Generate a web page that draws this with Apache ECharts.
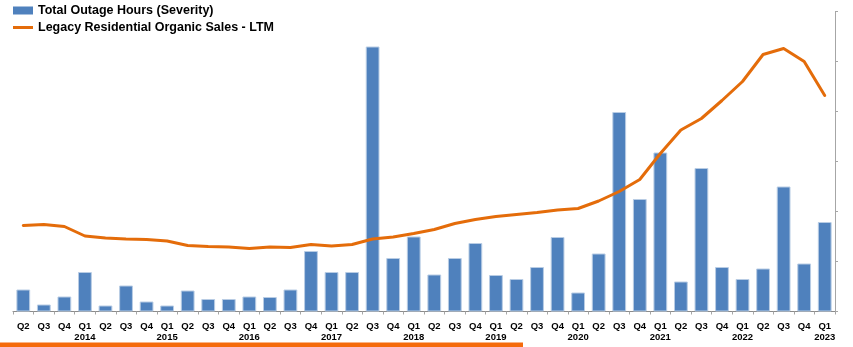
<!DOCTYPE html>
<html>
<head>
<meta charset="utf-8">
<script src="https://cdn.jsdelivr.net/npm/echarts@6/dist/echarts.min.js"></script>
<style>
  html, body { margin: 0; padding: 0; background: #ffffff; }
  #chart { width: 853px; height: 347px; }
</style>
</head>
<body>
<div id="chart"></div>
<script>
// Quarter labels along the category axis (Q2 2014 through Q1 2023)
const quarters = [
  'Q2','Q3','Q4','Q1','Q2','Q3','Q4','Q1','Q2','Q3',
  'Q4','Q1','Q2','Q3','Q4','Q1','Q2','Q3','Q4','Q1',
  'Q2','Q3','Q4','Q1','Q2','Q3','Q4','Q1','Q2','Q3',
  'Q4','Q1','Q2','Q3','Q4','Q1','Q2','Q3','Q4','Q1'
];
// Year shown beneath each Q1 label
const years = [
  '','','','2014','','','','2015','','',
  '','2016','','','','2017','','','','2018',
  '','','','2019','','','','2020','','',
  '','2021','','','','2022','','','','2023'
];

const outageName = 'Total Outage Hours (Severity)';
const salesName = 'Legacy Residential Organic Sales - LTM';

// Total outage hours (severity) per quarter
const outageHours = [
  0.44, 0.14, 0.30, 0.79, 0.12, 0.52, 0.20, 0.12, 0.42, 0.25,
  0.25, 0.30, 0.29, 0.44, 1.21, 0.79, 0.79, 5.30, 1.07, 1.50,
  0.74, 1.07, 1.37, 0.73, 0.65, 0.89, 1.49, 0.38, 1.16, 3.99,
  2.25, 3.18, 0.60, 2.87, 0.89, 0.65, 0.86, 2.50, 0.96, 1.79
];

// Legacy residential organic sales, trailing twelve months
const salesLTM = [
  1.72, 1.74, 1.70, 1.51, 1.47, 1.45, 1.44, 1.41, 1.32, 1.30,
  1.29, 1.26, 1.29, 1.28, 1.34, 1.31, 1.34, 1.45, 1.49, 1.56,
  1.64, 1.76, 1.84, 1.90, 1.94, 1.98, 2.03, 2.06, 2.21, 2.40,
  2.64, 3.16, 3.63, 3.86, 4.22, 4.60, 5.14, 5.26, 5.00, 4.32
];

const chart = echarts.init(document.getElementById('chart'), null, { renderer: 'canvas' });

const legendText = {
  fontFamily: 'Liberation Sans',
  fontWeight: 'bold',
  fontSize: 12.5,
  color: '#000000'
};

chart.setOption({
  animation: false,
  backgroundColor: '#ffffff',
  grid: { left: 13, right: 18, top: 11.5, bottom: 35.5, containLabel: false },
  legend: [
    {
      data: [{ name: outageName, icon: 'rect', itemStyle: { borderWidth: 0 } }],
      left: 13, top: 4,
      itemWidth: 20, itemHeight: 8, itemGap: 2,
      textStyle: legendText, padding: 0
    },
    {
      data: [{ name: salesName, icon: 'rect' }],
      left: 13, top: 21,
      itemWidth: 20, itemHeight: 3, itemGap: 2,
      textStyle: legendText, padding: 0
    }
  ],
  xAxis: {
    type: 'category',
    data: quarters,
    boundaryGap: true,
    axisLine: { show: true, lineStyle: { color: '#8c8c8c', width: 1 } },
    axisTick: { show: true, length: 3, lineStyle: { color: '#a6a6a6' } },
    axisLabel: {
      interval: 0,
      margin: 9,
      fontFamily: 'Liberation Sans',
      fontWeight: 'bold',
      fontSize: 9.5,
      lineHeight: 11.5,
      color: '#000000',
      formatter: (v, i) => years[i] ? v + '\n' + years[i] : v
    }
  },
  yAxis: [
    {
      type: 'value',
      position: 'right',
      min: 0, max: 6, interval: 1,
      axisLine: { show: true, lineStyle: { color: '#a6a6a6' } },
      axisTick: { show: true, length: 3, lineStyle: { color: '#a6a6a6' } },
      axisLabel: { show: false },
      splitLine: { show: false }
    }
  ],
  series: [
    {
      name: outageName,
      type: 'bar',
      data: outageHours,
      barCategoryGap: '33%',
      itemStyle: { color: '#4f81bd', borderColor: '#b8cce4', borderWidth: 1 },
      z: 2
    },
    {
      name: salesName,
      type: 'line',
      data: salesLTM,
      showSymbol: false,
      symbol: 'none',
      smooth: false,
      lineStyle: { color: '#e46c0a', width: 3, join: 'round', cap: 'round' },
      itemStyle: { color: '#e46c0a' },
      z: 3
    }
  ],
  graphic: [
    {
      type: 'rect',
      left: 0, bottom: 0,
      shape: { width: 523, height: 4.5 },
      style: { fill: '#f56b0c' },
      silent: true
    }
  ]
});
</script>
</body>
</html>
